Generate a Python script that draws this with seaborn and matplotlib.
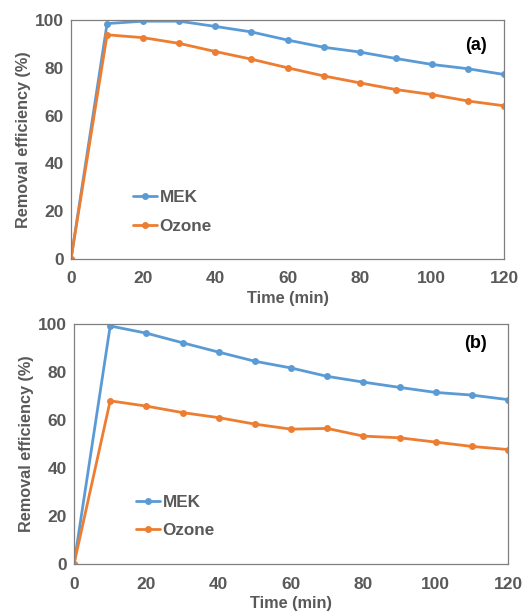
import pandas as pd
import seaborn as sns
import matplotlib.pyplot as plt

# Values
time_min = [0, 10, 20, 30, 40, 50, 60, 70, 80, 90, 100, 110, 120]
series_names = ["MEK", "Ozone"]

mek_a = [0, 98.5, 99.5, 99.5, 97.3, 95.0, 91.6, 88.6, 86.6, 83.9, 81.4, 79.6, 77.2]
ozone_a = [0, 93.8, 92.6, 90.2, 86.8, 83.6, 80.0, 76.6, 73.7, 70.9, 68.8, 66.1, 64.1]

mek_b = [0, 99.2, 96.2, 92.2, 88.3, 84.5, 81.7, 78.2, 75.8, 73.6, 71.5, 70.4, 68.5]
ozone_b = [0, 68.0, 65.8, 63.1, 61.0, 58.3, 56.2, 56.5, 53.3, 52.6, 50.8, 49.0, 47.7]

panel_labels = ["(a)", "(b)"]
y_ticks = [0, 20, 40, 60, 80, 100]
x_ticks = [0, 20, 40, 60, 80, 100, 120]

sns.set_style("white")
plt.rcParams['font.family'] = ['Liberation Sans', 'DejaVu Sans']

text_gray = "#595959"
palette = {"MEK": "#5B9BD5", "Ozone": "#ED7D31"}


def make_frame(mek, ozone):
    rows = []
    for name, vals in zip(series_names, [mek, ozone]):
        for t, v in zip(time_min, vals):
            rows.append({"Time": t, "Efficiency": v, "Series": name})
    return pd.DataFrame(rows)


fig = plt.figure(figsize=(5.31, 6.15), dpi=100)
ax_a = fig.add_axes([0.1337, 0.5789, 0.8155, 0.3886])
ax_b = fig.add_axes([0.1394, 0.0829, 0.8173, 0.3902])

panels = [(ax_a, mek_a, ozone_a, (0.961, 0.93), 0.197),
          (ax_b, mek_b, ozone_b, (0.952, 0.955), 0.198)]

for (ax, mek, ozone, lab_pos, leg_y), label in zip(panels, panel_labels):
    df = make_frame(mek, ozone)
    sns.lineplot(data=df, x="Time", y="Efficiency", hue="Series",
                 palette=palette, marker="o", markersize=5,
                 markeredgewidth=0, linewidth=2, ax=ax)
    ax.set_xlim(0, 120)
    ax.set_ylim(0, 100)
    ax.set_xticks(x_ticks)
    ax.set_yticks(y_ticks)
    ax.tick_params(axis="y", length=0, pad=5, labelsize=12.5,
                   labelcolor=text_gray)
    ax.tick_params(axis="x", length=0, pad=9, labelsize=12.5,
                   labelcolor=text_gray)
    for t in ax.get_xticklabels() + ax.get_yticklabels():
        t.set_fontweight("bold")
    ax.set_xlabel("Time (min)", fontsize=11.7, fontweight="bold",
                  color=text_gray, labelpad=3)
    ax.set_ylabel("Removal efficiency (%)", fontsize=11.7, fontweight="bold",
                  color=text_gray, labelpad=3)
    for sp in ax.spines.values():
        sp.set_color("#7f7f7f")
        sp.set_linewidth(0.9)
    ax.text(lab_pos[0], lab_pos[1], label, transform=ax.transAxes,
            ha="right", va="top", fontsize=13, fontweight="bold",
            color="black")
    leg = ax.legend(loc="center left", bbox_to_anchor=(0.108, leg_y),
                    frameon=False, handlelength=1.4, handletextpad=0.15,
                    labelspacing=0.8, prop={"size": 12.3, "weight": "bold"})
    for t in leg.get_texts():
        t.set_color(text_gray)

fig.savefig("out.png", dpi=100)
